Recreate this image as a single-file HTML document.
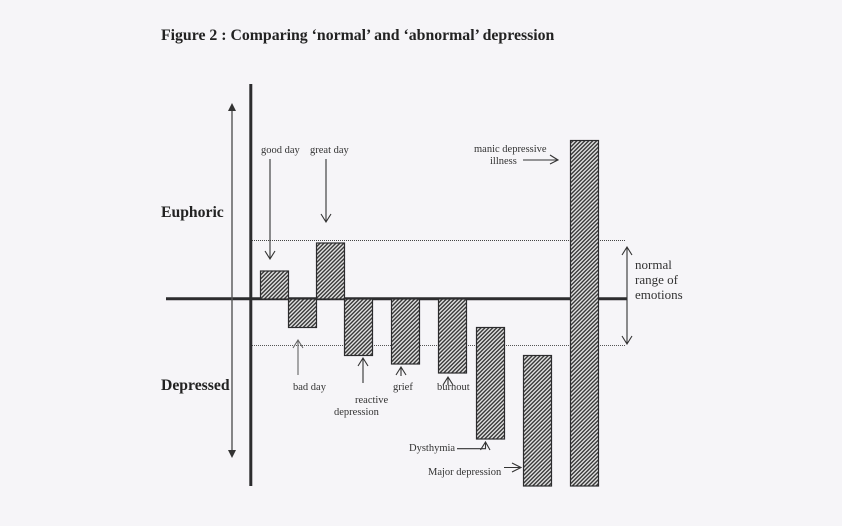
<!DOCTYPE html>
<html><head><meta charset="utf-8"><style>
html,body{margin:0;padding:0;background:#f6f5f8}
svg{display:block}
text{font-family:"Liberation Serif",serif;fill:#333}
.s{font-size:10.5px}
.b{font-weight:bold;fill:#222}
</style></head><body>
<svg width="842" height="526" viewBox="0 0 842 526" xmlns="http://www.w3.org/2000/svg">
<defs><pattern id="h" width="2.8" height="2.8" patternUnits="userSpaceOnUse" patternTransform="rotate(-45)">
<rect width="2.8" height="2.8" fill="#e0e0e0"/><rect width="2.8" height="1.4" fill="#3a3a3a"/></pattern></defs>
<rect width="842" height="526" fill="#f6f5f8"/>
<text x="161" y="40" class="b" font-size="15.8">Figure 2 : Comparing ‘normal’ and ‘abnormal’ depression</text>
<line x1="252" y1="240.5" x2="626" y2="240.5" stroke="#444" stroke-width="1" stroke-dasharray="1 1"/>
<line x1="252" y1="345.5" x2="626" y2="345.5" stroke="#555" stroke-width="1" stroke-dasharray="1 1"/>
<line x1="166" y1="298.7" x2="627" y2="298.7" stroke="#2c2c2e" stroke-width="3"/>
<line x1="250.8" y1="84" x2="250.8" y2="486" stroke="#2c2c2e" stroke-width="3"/>
<line x1="232" y1="108" x2="232" y2="454" stroke="#555" stroke-width="1.4"/>
<polygon points="232,103 228,111 236,111" fill="#333"/>
<polygon points="232,458 228,450 236,450" fill="#333"/>
<g fill="url(#h)" stroke="#2c2c2e" stroke-width="1.2">
<rect x="260.5" y="271" width="28" height="28"/>
<rect x="316.5" y="243" width="28" height="56"/>
<rect x="288.5" y="299" width="28" height="28.5"/>
<rect x="344.5" y="299" width="28" height="56.5"/>
<rect x="391.5" y="299" width="28" height="65"/>
<rect x="438.5" y="299" width="28" height="74"/>
<rect x="476.5" y="327.5" width="28" height="111.5"/>
<rect x="523.5" y="355.5" width="28" height="130.5"/>
<rect x="570.5" y="140.5" width="28" height="345.5"/>
</g>
<g fill="none" stroke="#333" stroke-width="1.1">
<path d="M270 159V259M265 251L270 259L275 251"/>
<path d="M326 159V222M321 214L326 222L331 214"/>
<path d="M298 375V340M293 348L298 340L303 348" stroke="#666"/>
<path d="M363 383V358M358 366L363 358L368 366"/>
<path d="M401 376V367M396 375L401 367L406 375"/>
<path d="M448 385V377M443 385L448 377L453 385"/>
<path d="M457 448.700H485.500V442M480.500 450L485.500 442L490 450"/>
<path d="M504 467.500H521M512 463L521 467.500L512 472"/>
<path d="M523 160H558M550 155L558 160L550 164"/>
<path d="M627 247V344M622 255L627 247L632 255M622 336L627 344L632 336"/>
</g>
<text x="261" y="153" class="s">good day</text>
<text x="310" y="153" class="s">great day</text>
<text x="474" y="152" class="s">manic depressive</text>
<text x="490" y="164" class="s">illness</text>
<text x="293" y="390" class="s">bad day</text>
<text x="355" y="403" class="s">reactive</text>
<text x="334" y="415" class="s">depression</text>
<text x="393" y="390" class="s">grief</text>
<text x="437" y="390" class="s">burnout</text>
<text x="409" y="451" class="s">Dysthymia</text>
<text x="428" y="475" class="s">Major depression</text>
<text x="161" y="217" class="b" font-size="15.7">Euphoric</text>
<text x="161" y="390" class="b" font-size="15.7">Depressed</text>
<text x="635" y="269" font-size="13">normal</text>
<text x="635" y="284" font-size="13">range of</text>
<text x="635" y="299" font-size="13">emotions</text>
</svg>
</body></html>
